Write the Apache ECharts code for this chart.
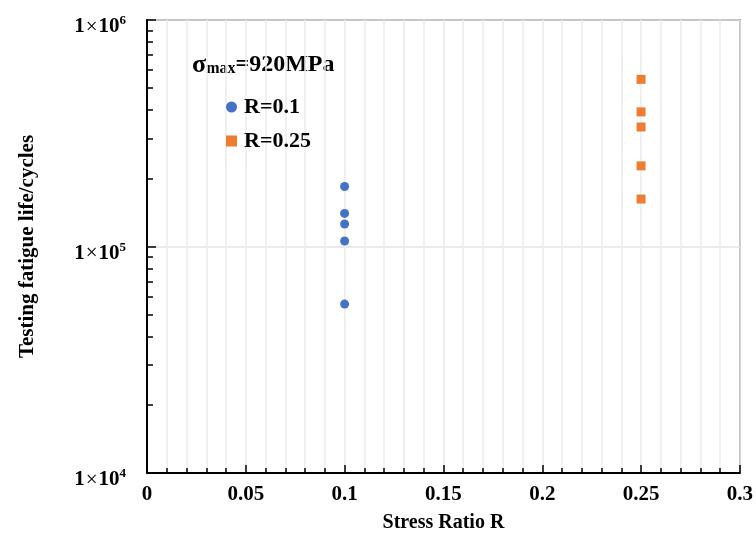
<!DOCTYPE html>
<html>
<head>
<meta charset="utf-8">
<script src="https://cdn.jsdelivr.net/npm/echarts@6/dist/echarts.min.js"></script>
<style>html,body{margin:0;padding:0;background:#fff;}#c{width:756px;height:539px;}</style>
</head>
<body>
<div id="c"></div>
<script>
const seriesNames = ['R=0.1', 'R=0.25'];
const xR01 = [0.1, 0.1, 0.1, 0.1, 0.1];
const yR01 = [184000, 140000, 125700, 105800, 55700];
const xR025 = [0.25, 0.25, 0.25, 0.25, 0.25];
const yR025 = [547000, 393000, 337000, 227000, 162000];
const xTicks = [0, 0.05, 0.1, 0.15, 0.2, 0.25, 0.3];
const yTickExps = [4, 5, 6];
const yMinorTicks = [2e4,3e4,4e4,5e4,6e4,7e4,8e4,9e4,2e5,3e5,4e5,5e5,6e5,7e5,8e5,9e5];

const FONT = '"Liberation Serif", "Times New Roman", serif';
const chart = echarts.init(document.getElementById('c'));

function pairs(xs, ys) { return xs.map((x, i) => [x, ys[i]]); }

chart.setOption({
  animation: false,
  backgroundColor: '#fff',
  grid: { left: 147, right: 15, top: 20, bottom: 66, show: true, borderColor: '#404040', borderWidth: 1.5 },
  legend: {
    orient: 'vertical', left: 221, top: 91, itemGap: 12, itemWidth: 11, itemHeight: 11,
    textStyle: { fontFamily: FONT, fontWeight: 'bold', fontSize: 22, color: '#000', padding: [0, 0, 0, 2] },
    data: [{ name: seriesNames[0], icon: 'circle' }, { name: seriesNames[1], icon: 'rect' }]
  },
  graphic: [{
    type: 'text', left: 192, top: 52,
    style: {
      text: '{s|σ}{m|max}{t|=920MPa}',
      rich: {
        s: { fontFamily: FONT, fontWeight: 'bold', fontSize: 26, fill: '#000' },
        m: { fontFamily: FONT, fontWeight: 'bold', fontSize: 16, fill: '#000', padding: [8, 0, 0, 0] },
        t: { fontFamily: FONT, fontWeight: 'bold', fontSize: 24, fill: '#000' }
      }
    }
  }],
  xAxis: {
    type: 'value', min: 0, max: 0.3, interval: 0.05,
    name: 'Stress Ratio R', nameLocation: 'middle', nameGap: 40,
    nameTextStyle: { fontFamily: FONT, fontWeight: 'bold', fontSize: 20, color: '#000' },
    axisLine: { show: true, lineStyle: { color: '#000', width: 2 } },
    axisTick: { show: true, inside: true, length: 8, lineStyle: { color: '#000', width: 1.5 } },
    minorTick: { show: true, splitNumber: 5, length: 5, lineStyle: { color: '#000', width: 1.5 } },
    splitLine: { show: true, lineStyle: { color: '#ebebeb', width: 1.5 } },
    minorSplitLine: { show: true, lineStyle: { color: '#ebebeb', width: 1.5 } },
    axisLabel: {
      margin: 11, fontFamily: FONT, fontWeight: 'bold', fontSize: 21, color: '#000',
      formatter: v => { const t = xTicks.find(t => Math.abs(t - v) < 1e-9); return t === undefined ? '' : String(t); }
    }
  },
  yAxis: [{
    type: 'log', logBase: 10, min: 1e4, max: 1e6,
    name: 'Testing fatigue life/cycles', nameLocation: 'middle', nameGap: 109,
    nameTextStyle: { fontFamily: FONT, fontWeight: 'bold', fontSize: 21, color: '#000' },
    axisLine: { show: true, lineStyle: { color: '#000', width: 2 } },
    axisTick: { show: true, inside: true, length: 9, lineStyle: { color: '#000', width: 1.5 } },
    splitLine: { show: true, lineStyle: { color: '#e3e3e3', width: 1.5 } },
    axisLabel: {
      margin: 21, fontFamily: FONT, fontSize: 21, color: '#000',
      formatter: v => { const e = Math.round(Math.log10(v)); return yTickExps.includes(e) ? '{b|1}{x|×}{b|10}{p|' + e + '}' : ''; },
      rich: {
        b: { fontFamily: FONT, fontWeight: 'bold', fontSize: 21, color: '#000', padding: [14, 0, 0, 0] },
        x: { fontFamily: FONT, fontWeight: 'normal', fontSize: 21, color: '#000', padding: [14, 1, 0, 1] },
        p: { fontFamily: FONT, fontWeight: 'bold', fontSize: 13, color: '#000', padding: [2, 0, 0, 0] }
      }
    }
  }, {
    type: 'log', logBase: 10, min: 1e4, max: 1e6, position: 'left',
    axisLine: { show: false }, splitLine: { show: false }, axisLabel: { show: false },
    axisTick: { show: true, inside: true, length: 6, customValues: yMinorTicks, lineStyle: { color: '#000', width: 1.5 } }
  }],
  series: [{
    name: seriesNames[0], type: 'scatter', symbol: 'circle', symbolSize: 9,
    itemStyle: { color: '#4472C4', opacity: 1 }, data: pairs(xR01, yR01)
  }, {
    name: seriesNames[1], type: 'scatter', symbol: 'rect', symbolSize: 9,
    itemStyle: { color: '#ED7D31', opacity: 1 }, data: pairs(xR025, yR025)
  }]
});
</script>
</body>
</html>
